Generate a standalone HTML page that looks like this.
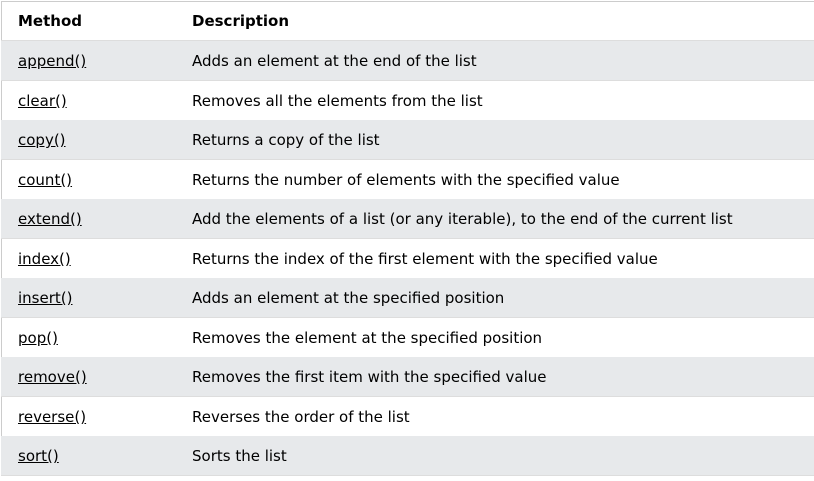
<!DOCTYPE html>
<html><head><style>
body{margin:0;background:#fff;width:814px;height:481px;overflow:hidden;font-family:"DejaVu Sans","Liberation Sans",sans-serif;font-size:15px;color:#000}
.t{position:absolute;left:1px;top:1px;width:820px;height:474px;border-left:1px solid #ccc;border-top:1px solid #ccc}
.r{position:absolute;left:1px;width:820px;border-bottom:1px solid #ddd;height:39px}
.r span{position:absolute;top:1px;line-height:39px;white-space:nowrap}
.a{left:17px}.b{left:191px}
.g{background:#e7e9eb}
u{text-decoration:underline}
.h span{font-weight:bold}
</style></head><body>
<div class="t"></div>
<div class="r h" style="top:1px;height:39px"><span class="a">Method</span><span class="b">Description</span></div>
<div class="r g" style="top:41px"><span class="a"><u>append()</u></span><span class="b">Adds an element at the end of the list</span></div>
<div class="r" style="top:80.5px"><span class="a"><u>clear()</u></span><span class="b">Removes all the elements from the list</span></div>
<div class="r g" style="top:120px"><span class="a"><u>copy()</u></span><span class="b">Returns a copy of the list</span></div>
<div class="r" style="top:159.5px"><span class="a"><u>count()</u></span><span class="b">Returns the number of elements with the specified value</span></div>
<div class="r g" style="top:199px"><span class="a"><u>extend()</u></span><span class="b">Add the elements of a list (or any iterable), to the end of the current list</span></div>
<div class="r" style="top:238.5px"><span class="a"><u>index()</u></span><span class="b">Returns the index of the first element with the specified value</span></div>
<div class="r g" style="top:278px"><span class="a"><u>insert()</u></span><span class="b">Adds an element at the specified position</span></div>
<div class="r" style="top:317.5px"><span class="a"><u>pop()</u></span><span class="b">Removes the element at the specified position</span></div>
<div class="r g" style="top:357px"><span class="a"><u>remove()</u></span><span class="b">Removes the first item with the specified value</span></div>
<div class="r" style="top:396.5px"><span class="a"><u>reverse()</u></span><span class="b">Reverses the order of the list</span></div>
<div class="r g" style="top:436px"><span class="a"><u>sort()</u></span><span class="b">Sorts the list</span></div>
</body></html>
